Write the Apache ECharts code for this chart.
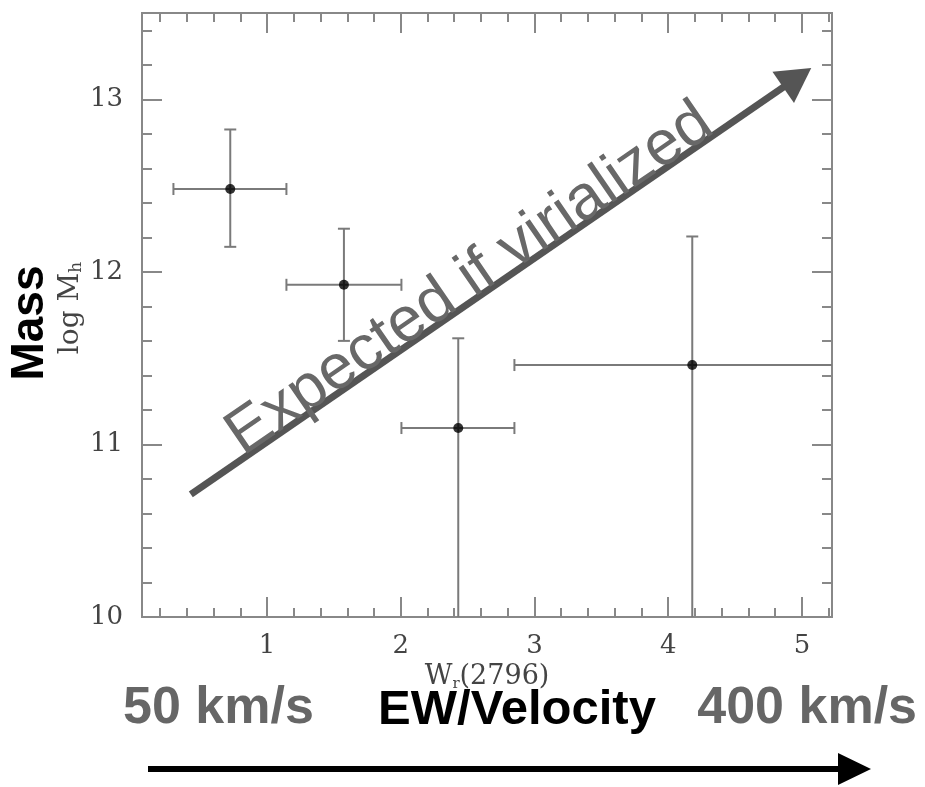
<!DOCTYPE html>
<html><head><meta charset="utf-8">
<script src="https://cdn.jsdelivr.net/npm/echarts@6/dist/echarts.min.js"></script>
<style>html,body{margin:0;padding:0;background:#fff}#c{width:925px;height:787px}</style>
</head><body><div id="c"></div>
<script>
// ---- data ----
const wr     = [0.725, 1.575, 2.43, 4.18];      // W_r(2796)
const logMh  = [12.48, 11.925, 11.095, 11.46];  // log M_h
const wrLow  = [0.30, 1.145, 2.005, 2.85];
const wrHigh = [1.145, 2.005, 2.85, 5.6];
const mLow   = [12.145, 11.60, 9.8, 9.8];
const mHigh  = [12.825, 12.25, 11.615, 12.205];

const xMajor = [1, 2, 3, 4, 5];
const xMinor = [0.2,0.4,0.6,0.8,1.2,1.4,1.6,1.8,2.2,2.4,2.6,2.8,3.2,3.4,3.6,3.8,4.2,4.4,4.6,4.8,5.2];
const yMajor = [10, 11, 12, 13];
const yMinor = [10.2,10.4,10.6,10.8,11.2,11.4,11.6,11.8,12.2,12.4,12.6,12.8,13.2,13.4];

const xRange = [0.065, 5.225];
const yRange = [10, 13.5];

const trendArrow = [[0.43, 10.71], [4.965, 13.125]];
const trendLabel = 'Expected if virialized';

const AX = '#888';
const serif = '"DejaVu Serif", serif';
const sans = '"Liberation Sans", Arial, sans-serif';

function xAxisDef(pos, ticks, len, labels) {
  return {
    type: 'value', position: pos, min: xRange[0], max: xRange[1],
    axisLine: { show: true, onZero: false, lineStyle: { color: AX, width: 2 } },
    axisTick: { show: true, inside: true, length: len, customValues: ticks, lineStyle: { color: AX, width: 2 } },
    axisLabel: labels ? { show: true, customValues: ticks, margin: 16, color: '#444', fontFamily: serif, fontSize: 26 } : { show: false },
    splitLine: { show: false }
  };
}
function yAxisDef(pos, ticks, len, labels) {
  return {
    type: 'value', position: pos, min: yRange[0], max: yRange[1],
    axisLine: { show: true, onZero: false, lineStyle: { color: AX, width: 2 } },
    axisTick: { show: true, inside: true, length: len, customValues: ticks, lineStyle: { color: AX, width: 2 } },
    axisLabel: labels ? { show: true, customValues: ticks, margin: 19, color: '#444', fontFamily: serif, fontSize: 26 } : { show: false },
    splitLine: { show: false }
  };
}

const errData = wr.map((x, i) => [x, logMh[i], wrLow[i], wrHigh[i], mLow[i], mHigh[i]]);
const ptData = wr.map((x, i) => [x, logMh[i]]);

const chart = echarts.init(document.getElementById('c'), null, { renderer: 'canvas' });

const option = {
  animation: false,
  backgroundColor: '#fff',
  grid: { left: 142, top: 13, width: 690, height: 604, show: false },
  xAxis: [
    xAxisDef('bottom', xMajor, 20, true),
    xAxisDef('bottom', xMinor, 9, false),
    xAxisDef('top', xMajor, 20, false),
    xAxisDef('top', xMinor, 9, false)
  ],
  yAxis: [
    yAxisDef('left', yMajor, 20, true),
    yAxisDef('left', yMinor, 10, false),
    yAxisDef('right', yMajor, 20, false),
    yAxisDef('right', yMinor, 10, false)
  ],
  series: [
    {
      type: 'custom', xAxisIndex: 0, yAxisIndex: 0, clip: true,
      data: errData,
      renderItem: function (params, api) {
        const c = api.coord([api.value(0), api.value(1)]);
        const xl = api.coord([api.value(2), api.value(1)]);
        const xh = api.coord([api.value(3), api.value(1)]);
        const yl = api.coord([api.value(0), api.value(4)]);
        const yh = api.coord([api.value(0), api.value(5)]);
        const cap = 6;
        const st = { stroke: '#7a7a7a', lineWidth: 2 };
        const L = (x1, y1, x2, y2) => ({ type: 'line', shape: { x1, y1, x2, y2 }, style: st });
        return {
          type: 'group',
          children: [
            L(xl[0], c[1], xh[0], c[1]),
            L(xl[0], c[1] - cap, xl[0], c[1] + cap),
            L(xh[0], c[1] - cap, xh[0], c[1] + cap),
            L(c[0], yl[1], c[0], yh[1]),
            L(c[0] - cap, yl[1], c[0] + cap, yl[1]),
            L(c[0] - cap, yh[1], c[0] + cap, yh[1])
          ]
        };
      },
      z: 2
    },
    {
      type: 'scatter', xAxisIndex: 0, yAxisIndex: 0,
      data: ptData, symbol: 'circle', symbolSize: 10,
      itemStyle: { color: '#000' }, z: 3,
      markLine: {
        silent: true, animation: false,
        symbol: ['none', 'triangle'], symbolSize: [38, 34],
        lineStyle: { color: '#555', width: 7, type: 'solid' },
        label: { show: false },
        data: [[{ coord: trendArrow[0] }, { coord: trendArrow[1] }]]
      }
    }
  ]
};
chart.setOption(option);

// annotation text along the trend arrow
const p0 = chart.convertToPixel({ gridIndex: 0 }, trendArrow[0]);
const p1 = chart.convertToPixel({ gridIndex: 0 }, trendArrow[1]);
const dx = p1[0] - p0[0], dy = p1[1] - p0[1];
const len = Math.sqrt(dx * dx + dy * dy);
const ux = dx / len, uy = dy / len;
const along = len * 0.478, off = 19;
const ang = Math.atan2(-dy, dx);

chart.setOption({
  graphic: [
    {
      type: 'text', x: p0[0] + ux * along + uy * off, y: p0[1] + uy * along - ux * off,
      rotation: ang,
      style: { text: trendLabel, fill: '#686868', font: '63px ' + sans, textAlign: 'center', textVerticalAlign: 'middle' },
      z: 10
    },
    // y-axis titles
    {
      type: 'text', x: 30, y: 323, rotation: Math.PI / 2,
      style: { text: 'Mass', fill: '#000', font: 'bold 46px ' + sans, textAlign: 'center', textVerticalAlign: 'middle' }
    },
    {
      type: 'text', x: 71, y: 308, rotation: Math.PI / 2,
      style: {
        text: '{a|log M}{s|h}', textAlign: 'center', textVerticalAlign: 'middle',
        rich: {
          a: { fontFamily: serif, fontSize: 28, fill: '#444', verticalAlign: 'bottom' },
          s: { fontFamily: serif, fontSize: 17, fill: '#444', padding: [9, 0, 0, 0], verticalAlign: 'bottom' }
        }
      }
    },
    // x-axis title
    {
      type: 'text', x: 487, y: 677,
      style: {
        text: '{a|W}{s|r}{a|(2796)}', textAlign: 'center', textVerticalAlign: 'middle',
        rich: {
          a: { fontFamily: serif, fontSize: 27, fill: '#444' },
          s: { fontFamily: serif, fontSize: 15, fill: '#444', padding: [15, 0, 0, 0] }
        }
      }
    },
    // bottom labels
    { type: 'text', x: 123, y: 735, style: { text: '50 km/s', fill: '#666', font: 'bold 52px ' + sans, textAlign: 'left', textVerticalAlign: 'bottom' } },
    { type: 'text', x: 517, y: 735, style: { text: 'EW/Velocity', fill: '#000', font: 'bold 49px ' + sans, textAlign: 'center', textVerticalAlign: 'bottom' } },
    { type: 'text', x: 917, y: 735, style: { text: '400 km/s', fill: '#666', font: 'bold 52px ' + sans, textAlign: 'right', textVerticalAlign: 'bottom' } },
    // bottom arrow
    { type: 'line', shape: { x1: 148, y1: 769, x2: 842, y2: 769 }, style: { stroke: '#000', lineWidth: 6 } },
    { type: 'polygon', shape: { points: [[838, 753], [871, 769], [838, 785]] }, style: { fill: '#000' } }
  ]
});
</script>
</body></html>
